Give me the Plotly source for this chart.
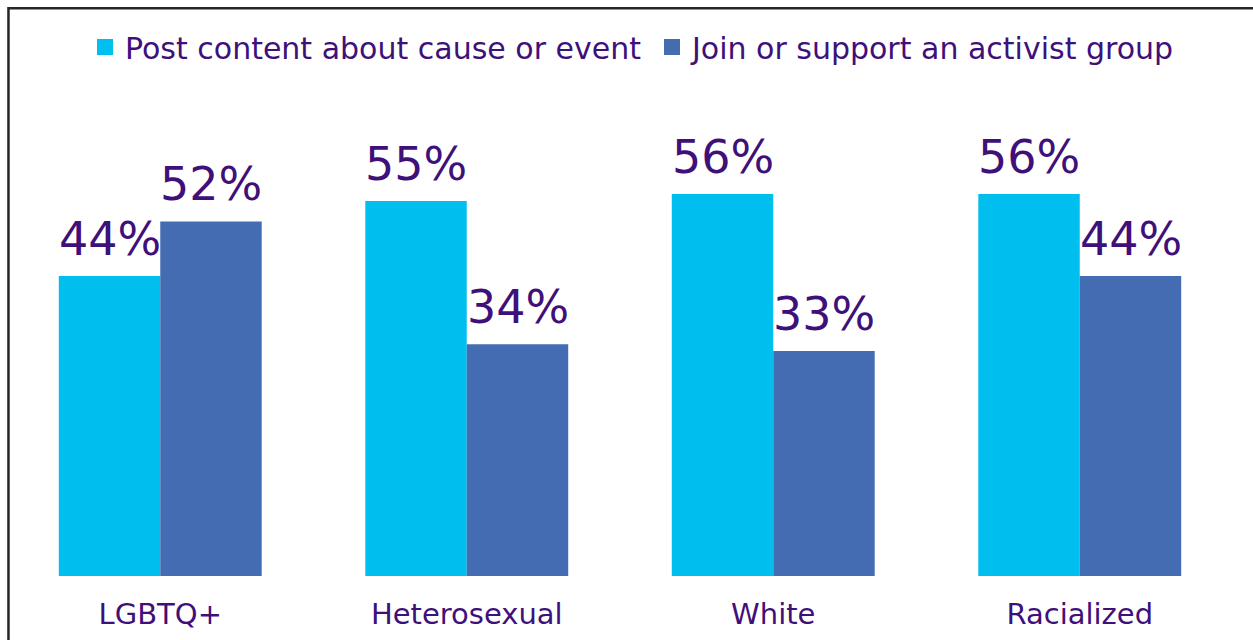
import plotly.graph_objects as go

# Survey groups and share of respondents taking each action (%)
groups = ["LGBTQ+", "Heterosexual", "White", "Racialized"]
post_content = [44, 55, 56, 56]
join_group = [52, 34, 33, 44]

series_names = ["Post content about cause or event", "Join or support an activist group"]
series_colors = ["#00BEEE", "#446CB3"]
text_color = "#40107A"
font_family = "'DejaVu Sans', 'Open Sans', sans-serif"

BAR_HALF_PX = 50.75  # half of one bar's drawn width, for centring value labels

fig = go.Figure()

for name, vals, color in zip(series_names, [post_content, join_group], series_colors):
    fig.add_trace(go.Bar(
        x=groups,
        y=vals,
        name=name,
        marker=dict(color=color, line=dict(width=0)),
        showlegend=False,
        hoverinfo="skip",
    ))

# Value labels above each bar
for side, vals in zip([-1, 1], [post_content, join_group]):
    for g, v in zip(groups, vals):
        fig.add_annotation(
            x=g, y=v, xref="x", yref="y",
            text=f"{v}%",
            showarrow=False,
            xanchor="center", yanchor="bottom",
            xshift=side * BAR_HALF_PX, yshift=8,
            font=dict(size=46, color=text_color, family=font_family),
        )

# Square legend keys
for name, color in zip(series_names, series_colors):
    fig.add_trace(go.Scatter(
        x=[None], y=[None],
        mode="markers",
        name=name,
        marker=dict(symbol="square", size=16, color=color),
        showlegend=True,
    ))

# Frame lines along the top and left edges
fig.add_shape(
    type="path",
    xref="paper", yref="paper",
    path="M 0.0012,-0.2 L 0.0012,1.1927 L 1.05,1.1927",
    line=dict(color="#262626", width=2.5),
    layer="above",
)

fig.update_layout(
    width=1253,
    height=640,
    margin=dict(l=7, r=20, t=100, b=64, autoexpand=False),
    paper_bgcolor="white",
    plot_bgcolor="white",
    barmode="group",
    bargap=0.338,
    bargroupgap=0,
    font=dict(family=font_family, color=text_color),
    legend=dict(
        orientation="h",
        xref="paper", x=0.0636, xanchor="left",
        yref="container", y=1 - 47 / 640, yanchor="middle",
        font=dict(size=30, color=text_color, family=font_family),
        bgcolor="rgba(0,0,0,0)",
        entrywidth=522,
        entrywidthmode="pixels",
        itemclick=False,
    ),
    xaxis=dict(
        showline=False,
        showgrid=False,
        zeroline=False,
        ticks="",
        ticklabelstandoff=18,
        tickfont=dict(size=29, color=text_color, family=font_family),
    ),
    yaxis=dict(
        range=[0, 69.8],
        visible=False,
        showgrid=False,
        zeroline=False,
    ),
)

fig.write_html("out.html")
